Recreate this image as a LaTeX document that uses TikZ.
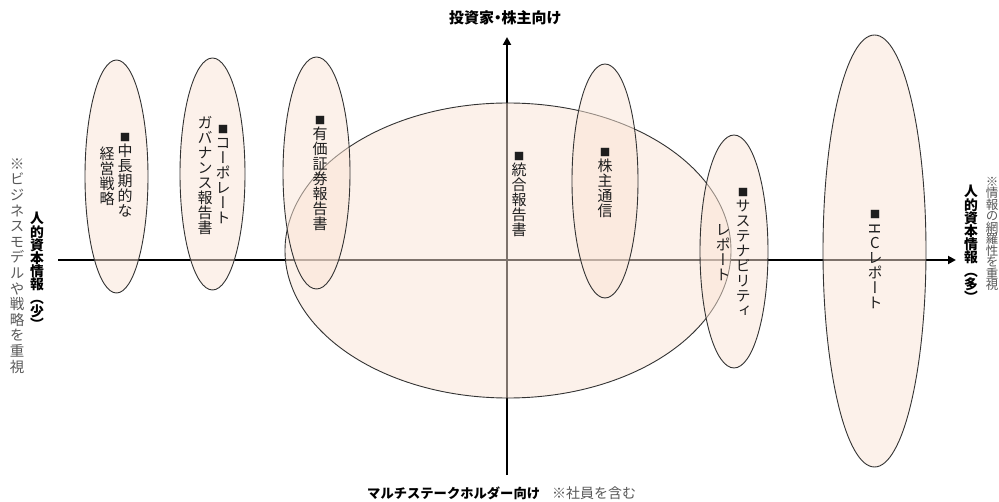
\documentclass[tikz,border=0pt]{standalone}
\usepackage{fontspec}
\usetikzlibrary{arrows.meta,shapes.geometric}
\newfontfamily\jp{Noto Sans CJK JP}
\newfontfamily\jpp[RawFeature=+palt]{Noto Sans CJK JP}
\newfontfamily\vjp[RawFeature=+vert]{Noto Sans CJK JP}
\definecolor{peach}{HTML}{FBE5D6}
\definecolor{edge}{HTML}{333333}
\definecolor{ink}{HTML}{1E1E1E}
\definecolor{note}{HTML}{595959}
\tikzset{
  axisline/.style={line width=2.4pt, black, -{Triangle[length=8pt,width=8pt]}},
  blob/.style={ellipse, draw=edge, line width=0.9pt, fill=peach, fill opacity=0.5, draw opacity=1, inner sep=0pt},
  vt/.style={align=center, inner sep=0pt, text=ink, font=\vjp\fontsize{15}{15}\selectfont},
  vlab/.style={align=center, inner sep=0pt, text=black, font=\vjp\bfseries\fontsize{13.8}{13.2}\selectfont},
  vnote/.style={align=center, inner sep=0pt, text=note, font=\vjp\fontsize{14.5}{15.6}\selectfont},
  hlab/.style={inner sep=0pt, text=black, font=\jp\bfseries\fontsize{14}{14}\selectfont},
  hnote/.style={inner sep=0pt, text=note, font=\jp\fontsize{14}{14}\selectfont},
}
\newcommand{\sq}{\scalebox{0.7}{■}}
\begin{document}
\lineskiplimit=-100pt
\lineskip=0pt
\begin{tikzpicture}[x=1pt,y=-1pt]
\useasboundingbox[fill=white] (0,0) rectangle (999,502);
% axes
\coordinate (xl) at (58,260);
\coordinate (xr) at (956,260);
\coordinate (yb) at (507,475);
\coordinate (yt) at (507,37);
\draw[axisline] (xl) -- (xr);
\draw[axisline] (yb) -- (yt);
% ellipses
\node[blob, minimum width=446pt, minimum height=295pt] (e4) at (508,250.5) {};
\node[blob, minimum width=63pt, minimum height=233pt] (e1) at (116.5,176.5) {};
\node[blob, minimum width=65pt, minimum height=232pt] (e2) at (212.5,174) {};
\node[blob, minimum width=67pt, minimum height=232pt] (e3) at (316.5,173) {};
\node[blob, minimum width=66pt, minimum height=234pt] (e5) at (605,181) {};
\node[blob, minimum width=68pt, minimum height=233pt] (e6) at (734,251.5) {};
\node[blob, minimum width=103pt, minimum height=432pt] (e7) at (874.5,251) {};
% texts in ellipses
\node[vt] (t1a) at (125,175) {\sq\\中\\長\\期\\的\\な};
\node[vt] (t1b) at (107,176) {経\\営\\戦\\略};
\node[vt] (t2a) at (223,175) {\sq\\コ\\ー\\ポ\\レ\\ー\\ト};
\node[vt] (t2b) at (205,175.5) {ガ\\バ\\ナ\\ン\\ス\\報\\告\\書};
\node[vt] (t3) at (320,174) {\sq\\有\\価\\証\\券\\報\\告\\書};
\node[vt] (t4) at (519,195) {\sq\\統\\合\\報\\告\\書};
\node[vt] (t5) at (605,183.5) {\sq\\株\\主\\通\\信};
\node[vt] (t6a) at (743,252) {\sq\\サ\\ス\\テ\\ナ\\ビ\\リ\\テ\\ィ};
\node[vt] (t6b) at (723,253) {レ\\ポ\\ー\\ト};
\node[vt] (t7) at (875,260) {\sq\\\rotatebox[origin=c]{-90}{H}\\C\\レ\\ポ\\ー\\ト};
% margin labels
\node[vlab] (ll) at (37,271) {人\\的\\資\\本\\情\\報\\（\\少\\）};
\node[vnote] (ln) at (17,266) {※\\ビ\\ジ\\ネ\\ス\\モ\\デ\\ル\\や\\戦\\略\\を\\重\\視};
\node[vlab] (rl) at (971,244) {人\\的\\資\\本\\情\\報\\（\\多\\）};
\node[vnote, font=\vjp\fontsize{12.5}{11.5}\selectfont] (rn) at (992,234) {※\\情\\報\\の\\網\\羅\\性\\を\\重\\視};
% axis labels
\node[hlab, font=\jpp\bfseries\fontsize{15}{15}\selectfont] (top) at (505,18) {投資家・株主向け};
\node[hlab, anchor=west, font=\jp\bfseries\fontsize{13.3}{13.3}\selectfont] (bot) at (367,493) {マルチステークホルダー向け};
\node[hnote, anchor=west] (botn) at (552,493) {※社員を含む};
\end{tikzpicture}
\end{document}
